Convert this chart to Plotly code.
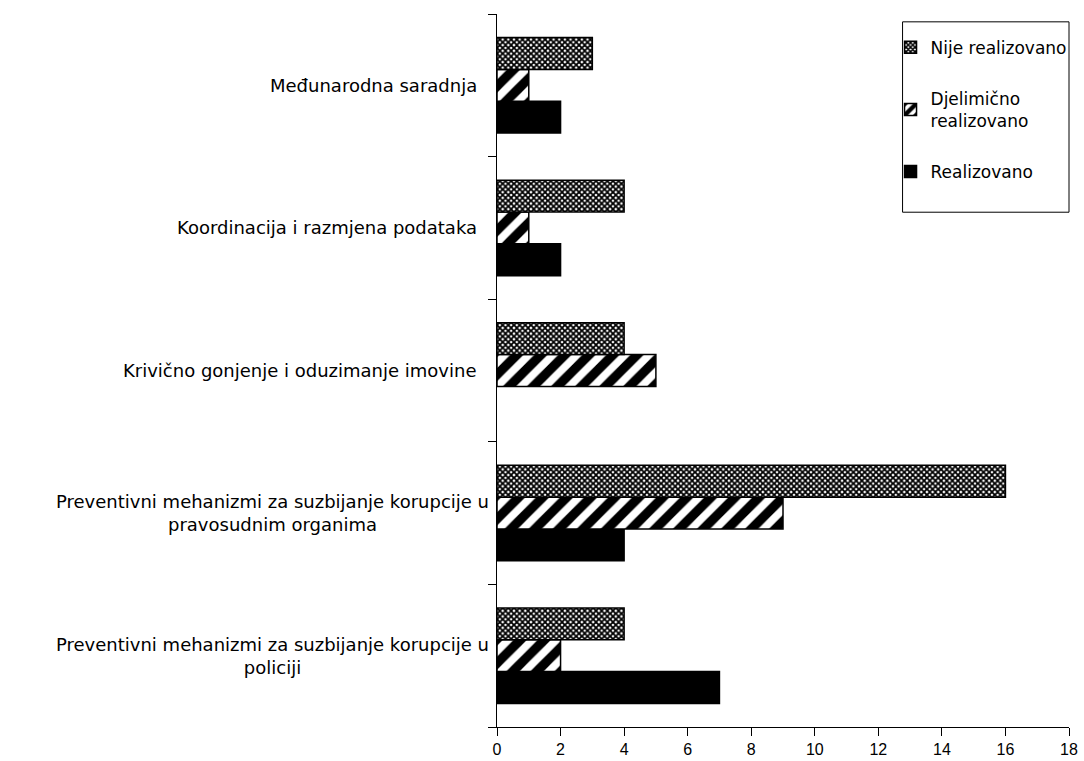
import plotly.graph_objects as go

# Categories listed bottom to top
categories = [
    "Preventivni mehanizmi za suzbijanje korupcije u<br>policiji",
    "Preventivni mehanizmi za suzbijanje korupcije u<br>pravosudnim organima",
    "Krivično gonjenje i oduzimanje imovine",
    "Koordinacija i razmjena podataka",
    "Međunarodna saradnja",
]
realizovano = [7, 4, 0, 2, 2]
djelimicno = [2, 9, 5, 1, 1]
nije_realizovano = [4, 16, 4, 4, 3]

x_ticks = [0, 2, 4, 6, 8, 10, 12, 14, 16, 18]

label_font = dict(family="DejaVu Sans", size=18, color="#000")


def outline(values):
    # no outline on empty bars
    return [0 if v == 0 else 1.5 for v in values]


fig = go.Figure()
fig.add_trace(go.Bar(
    y=categories, x=realizovano, orientation="h", name="Realizovano",
    legendgroup="c", legendrank=3,
    marker=dict(color="#000", line=dict(color="#000", width=outline(realizovano))),
))
fig.add_trace(go.Bar(
    y=categories, x=djelimicno, orientation="h", name="Djelimično<br>realizovano",
    legendgroup="b", legendrank=2,
    marker=dict(color="#fff", line=dict(color="#000", width=outline(djelimicno)),
                pattern=dict(shape="/", fgcolor="#000", bgcolor="#fff",
                             fgopacity=1, size=17, solidity=0.55)),
))
fig.add_trace(go.Bar(
    y=categories, x=nije_realizovano, orientation="h", name="Nije realizovano",
    legendgroup="a", legendrank=1,
    marker=dict(color="#fff", line=dict(color="#000", width=outline(nije_realizovano)),
                pattern=dict(shape="x", fgcolor="#000", bgcolor="#fff",
                             fgopacity=1, size=4, solidity=0.7)),
))

for cat in categories:
    two_line = "<br>" in cat
    fig.add_annotation(
        x=0, xref="paper", y=cat, yref="y", text=cat, showarrow=False,
        xanchor="right", align="center", font=label_font,
        xshift=-6 if two_line else -18,
    )

# legend frame
fig.add_shape(
    type="rect", xref="paper", yref="paper",
    x0=0.709, x1=1.0, y0=0.722, y1=0.989,
    line=dict(color="#000", width=1), fillcolor="rgba(0,0,0,0)", layer="above",
)

fig.update_layout(
    width=1084, height=761,
    margin=dict(l=497, r=15, t=14, b=34, autoexpand=False),
    paper_bgcolor="#fff", plot_bgcolor="#fff",
    barmode="group", bargap=0.33, bargroupgap=0,
    showlegend=True,
    legend=dict(
        x=0.688, xanchor="left", y=0.978, yanchor="top",
        borderwidth=0, bgcolor="rgba(0,0,0,0)",
        traceorder="grouped", tracegroupgap=26,
        font=dict(family="DejaVu Sans", size=17, color="#000"),
        itemwidth=30,
    ),
    xaxis=dict(
        range=[0, 18], tickvals=x_ticks, ticks="outside", ticklen=8,
        tickcolor="#000", showline=True, linecolor="#000", linewidth=1,
        showgrid=False, zeroline=False,
        tickfont=dict(family="Liberation Sans", size=16, color="#000"),
    ),
    yaxis=dict(
        showticklabels=False, ticks="outside", ticklen=8, tickson="boundaries",
        tickcolor="#000", showline=True, linecolor="#000", linewidth=1,
        showgrid=False, zeroline=False,
    ),
)

fig.write_html("out.html")
